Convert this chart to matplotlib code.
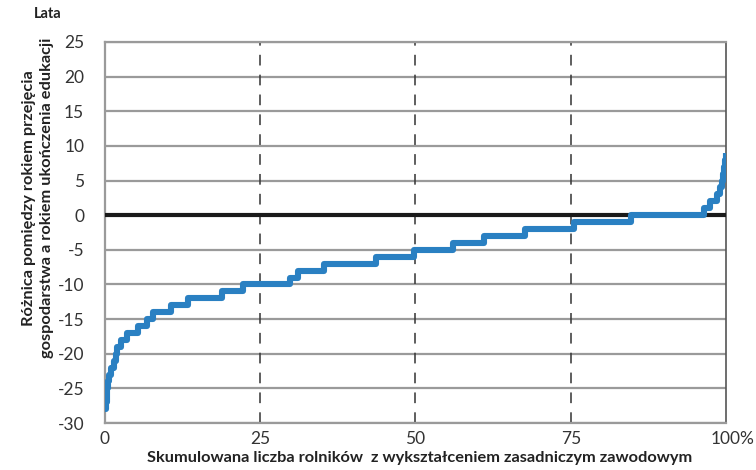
import matplotlib
matplotlib.use("Agg")
import matplotlib.pyplot as plt
from matplotlib.transforms import ScaledTranslation

# Data: start of each step (% of farmers) and value (years)
step_start = [0, 0.15, 0.25, 0.35, 0.45, 0.6, 1.0, 1.5, 1.8, 2.0, 2.6, 3.6, 5.3, 6.7,
              7.7, 10.7, 13.3, 18.8, 22.3, 29.8, 31.0, 35.3, 43.7, 49.8, 56.0, 61.0,
              67.7, 75.5, 84.7, 96.5, 97.5, 98.5, 99.0, 99.3, 99.5, 99.65, 99.8, 99.95]
step_value = [-28, -27, -26, -25, -24, -23, -22, -21, -20, -19, -18, -17, -16, -15,
              -14, -13, -12, -11, -10, -9, -8, -7, -6, -5, -4, -3,
              -2, -1, 0, 1, 2, 3, 4, 5, 6, 7, 8, 9]
x_ticks = [0, 25, 50, 75, 100]
x_ticklabels = ["0", "25", "50", "75", "100%"]
y_ticks = list(range(-30, 30, 5))

plt.rcParams['font.family'] = ['Lato', 'DejaVu Sans']
plt.rcParams['axes.unicode_minus'] = False

fig = plt.figure(figsize=(7.56, 4.70), dpi=100)
ax = fig.add_axes([105/756, 1-423/470, (726-105)/756, (423-42)/470])

xs = step_start + [100]
ys = step_value + [step_value[-1]]
ax.plot(xs, ys, drawstyle='steps-post', color='#2a80c2', lw=4.4,
        solid_joinstyle='round', solid_capstyle='butt', zorder=5)

ax.set_xlim(0, 100)
ax.set_ylim(-30, 25)

for y in y_ticks:
    if y == 0:
        ax.axhline(0, color='#1a1a1a', lw=3, zorder=3)
    else:
        ax.axhline(y, color='#9a9a9a', lw=1.6, zorder=1)
for x in [25, 50, 75]:
    ax.axvline(x, color='#333333', lw=1.1, dashes=(7, 6), zorder=2)

for side in ['left', 'bottom', 'top']:
    ax.spines[side].set_color('#9a9a9a')
    ax.spines[side].set_linewidth(1.6)
ax.spines['right'].set_color('#555555')
ax.spines['right'].set_linewidth(1.2)

ax.set_xticks(x_ticks)
ax.set_xticklabels(x_ticklabels)
ax.set_yticks(y_ticks)
ax.tick_params(axis='both', length=0, labelsize=12.5, colors='#333333')
ax.tick_params(axis='y', pad=15)
ax.tick_params(axis='x', pad=6)
labels = ax.get_xticklabels()
labels[-1].set_transform(labels[-1].get_transform() + ScaledTranslation(7/100, 0, fig.dpi_scale_trans))

fig.text(420/756, 1-458/470, 'Skumulowana liczba rolników  z wykształceniem zasadniczym zawodowym',
         ha='center', va='center', fontsize=11.8, fontweight='bold', color='#222222')
fig.text(38/756, 1-198/470, 'Różnica pomiędzy rokiem przejęcia\ngospodarstwa a rokiem ukończenia edukacji',
         ha='center', va='center', rotation=90, fontsize=11.8, fontweight='bold',
         color='#222222', multialignment='center', linespacing=1.4)
fig.text(48/756, 1-14/470, 'Lata', ha='center', va='center', fontsize=10.5,
         fontweight='bold', color='#222222')

fig.savefig('out.png', dpi=100)
